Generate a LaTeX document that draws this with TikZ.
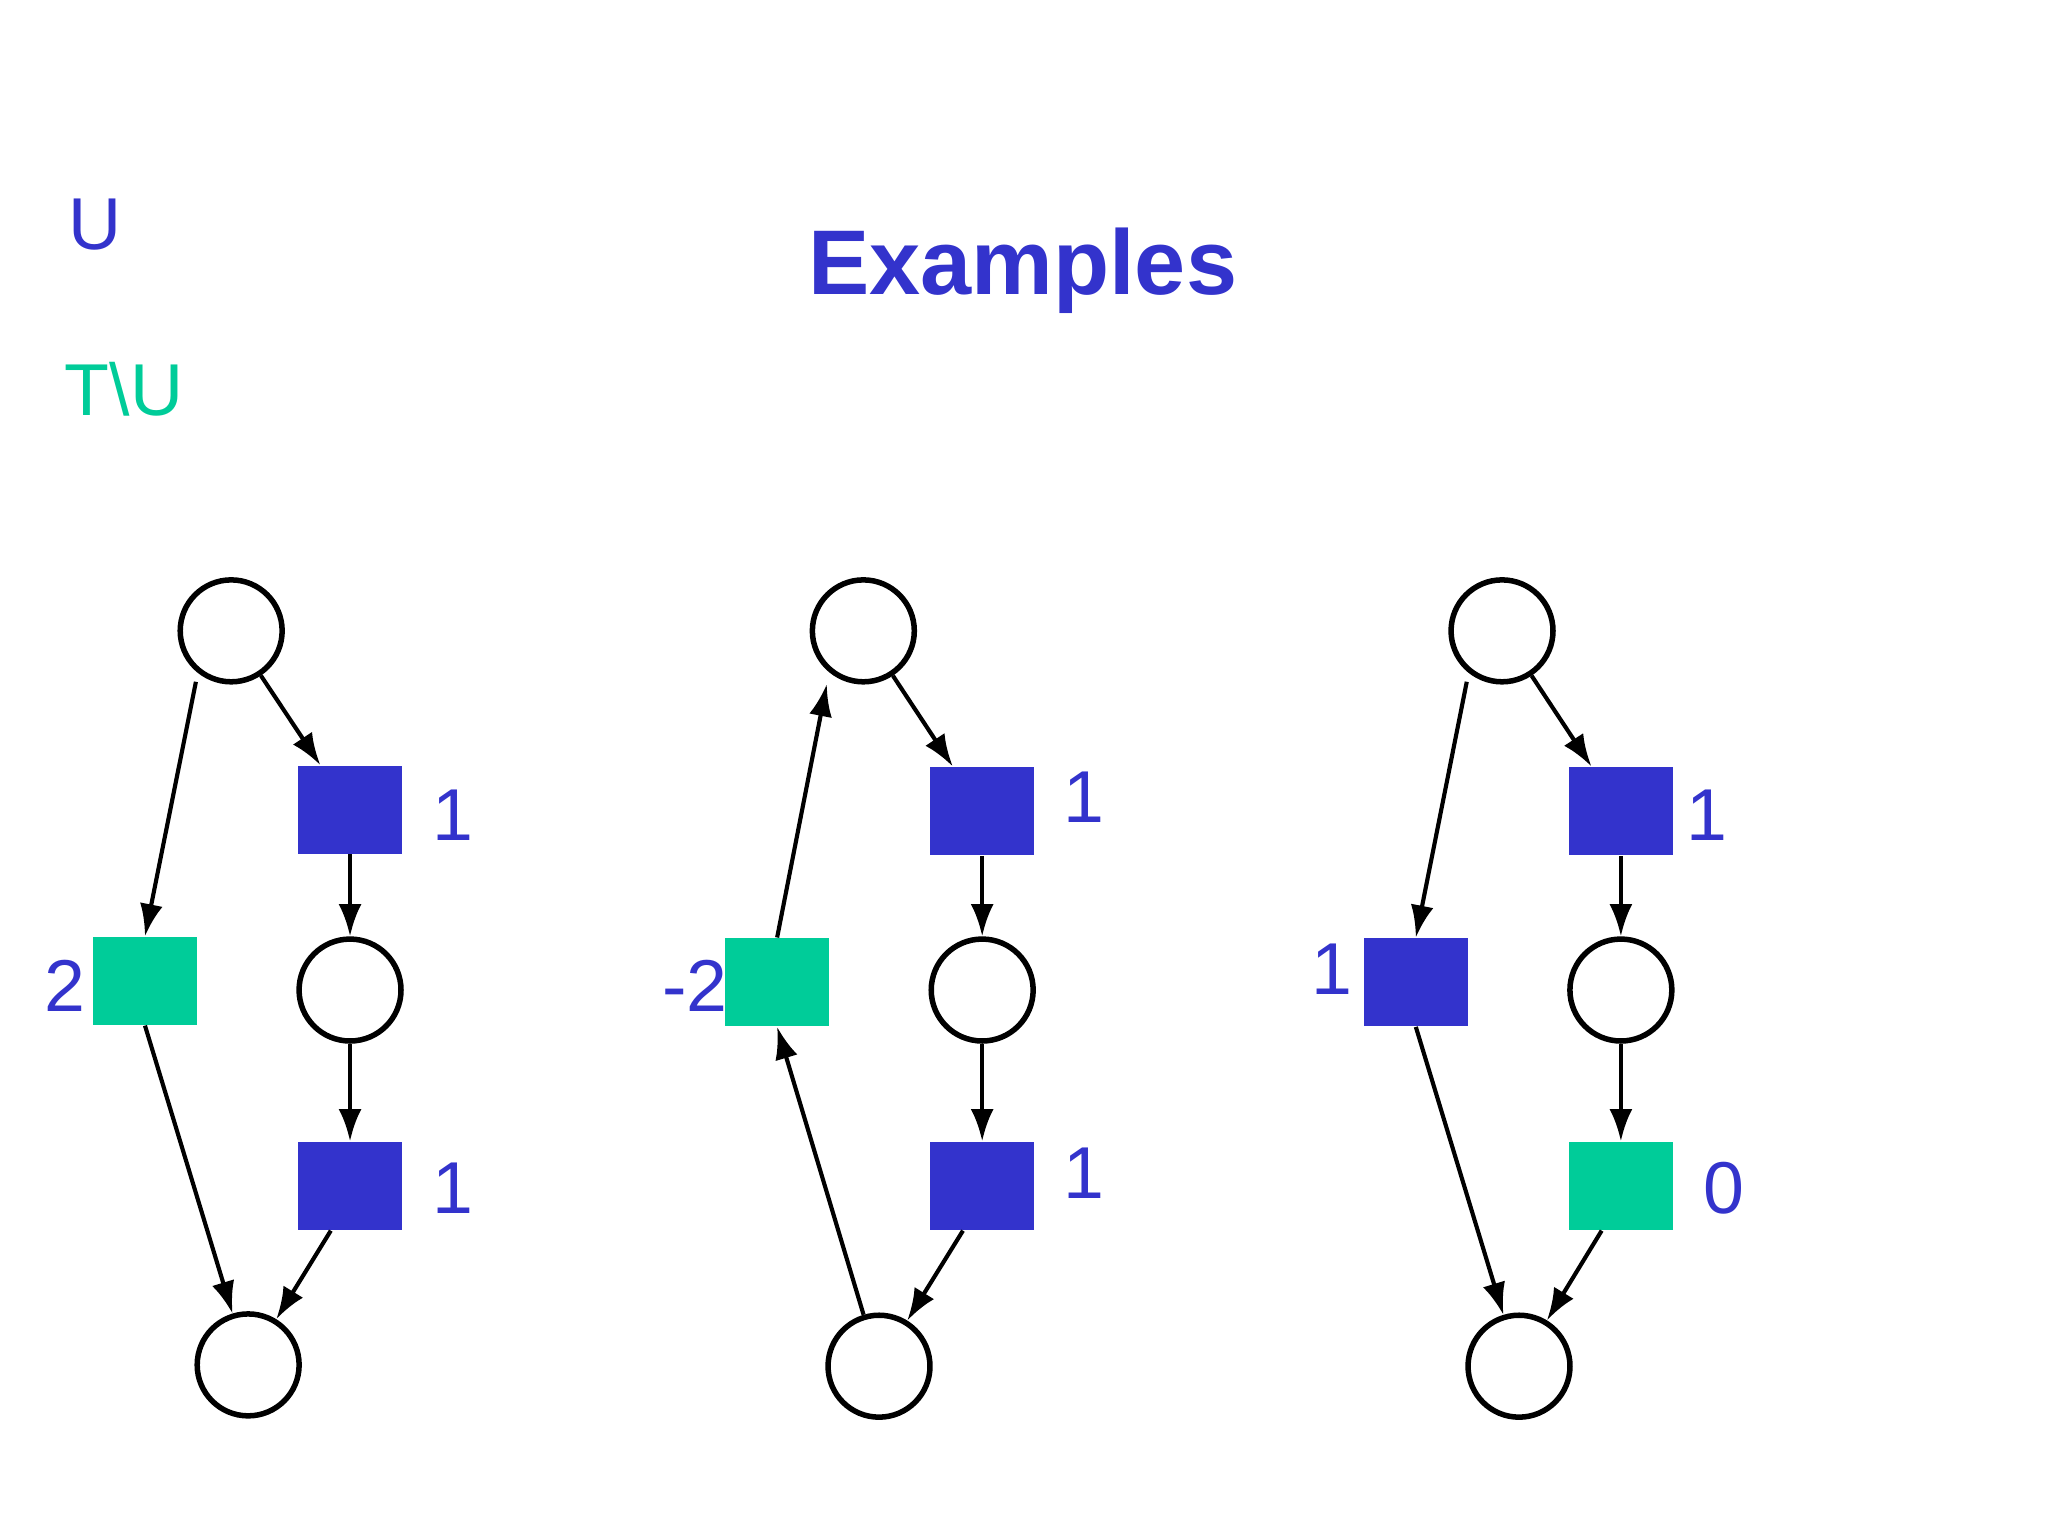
\documentclass[tikz,border=0pt]{standalone}
\usepackage{fontspec}
\setmainfont{Liberation Sans}
\usetikzlibrary{arrows.meta}
\definecolor{tblue}{HTML}{3333CC}
\definecolor{tgreen}{HTML}{00CC99}
\begin{document}
\begin{tikzpicture}[x=0.01cm,y=-0.01cm,
  pl/.style={circle,draw,line width=1.2pt,minimum size=0.78cm,inner sep=0pt},
  tb/.style={rectangle,fill=tblue,minimum width=0.8cm,minimum height=0.67cm,inner sep=0pt},
  tg/.style={rectangle,fill=tgreen,minimum width=0.8cm,minimum height=0.67cm,inner sep=0pt},
  lb/.style={text=tblue,font=\fontsize{16}{18}\selectfont},
  ar/.style={-{Latex[length=7pt,width=5pt]},line width=0.9pt}]
\useasboundingbox (0,0) rectangle (1568,1176);
\node[text=tblue,font=\fontsize{20}{24}\bfseries\selectfont] (title) at (783,207) {Examples};
\node[text=tblue,font=\fontsize{16}{18}\selectfont] (u) at (73,172) {U};
\node[text=tgreen,font=\fontsize{16}{18}\selectfont] (tu) at (95,298) {T\textbackslash U};
% graph 1
\node[pl] (a1) at (177,483) {};
\node[tb] (b1) at (268,620) {};
\node[pl] (c1) at (268,758) {};
\node[tb] (d1) at (268,908) {};
\node[pl] (e1) at (190,1045) {};
\node[tg] (f1) at (111,751) {};
\node[lb] (l11) at (347,624) {1};
\node[lb] (l12) at (347,910) {1};
\node[lb] (l13) at (50,755) {2};
\draw[ar] (a1) -- (b1);
\draw[ar] (b1) -- (c1);
\draw[ar] (c1) -- (d1);
\draw[ar] (d1.south west)++(26,0) -- (e1);
\draw[ar] (a1) ++(-27,39) -- (f1.north);
\draw[ar] (f1.south) -- (e1);
% graph 2
\node[pl] (a2) at (661,483) {};
\node[tb] (b2) at (752,621) {};
\node[pl] (c2) at (752,758) {};
\node[tb] (d2) at (752,908) {};
\node[pl] (e2) at (673,1046) {};
\node[tg] (f2) at (595,752) {};
\node[lb] (l21) at (830,610) {1};
\node[lb] (l22) at (830,898) {1};
\node[lb] (l23) at (532,755) {-2};
\draw[ar] (a2) -- (b2);
\draw[ar] (b2) -- (c2);
\draw[ar] (c2) -- (d2);
\draw[ar] (d2.south west)++(26,0) -- (e2);
\draw[ar] (f2.north) -- ++(38,-194);
\draw[ar] (e2) -- (f2.south);
% graph 3
\node[pl] (a3) at (1150,483) {};
\node[tb] (b3) at (1241,621) {};
\node[pl] (c3) at (1241,758) {};
\node[tg] (d3) at (1241,908) {};
\node[pl] (e3) at (1163,1046) {};
\node[tb] (f3) at (1084,752) {};
\node[lb] (l31) at (1307,624) {1};
\node[lb] (l32) at (1320,910) {0};
\node[lb] (l33) at (1020,742) {1};
\draw[ar] (a3) -- (b3);
\draw[ar] (b3) -- (c3);
\draw[ar] (c3) -- (d3);
\draw[ar] (d3.south west)++(26,0) -- (e3);
\draw[ar] (a3) ++(-27,39) -- (f3.north);
\draw[ar] (f3.south) -- (e3);
\end{tikzpicture}
\end{document}
